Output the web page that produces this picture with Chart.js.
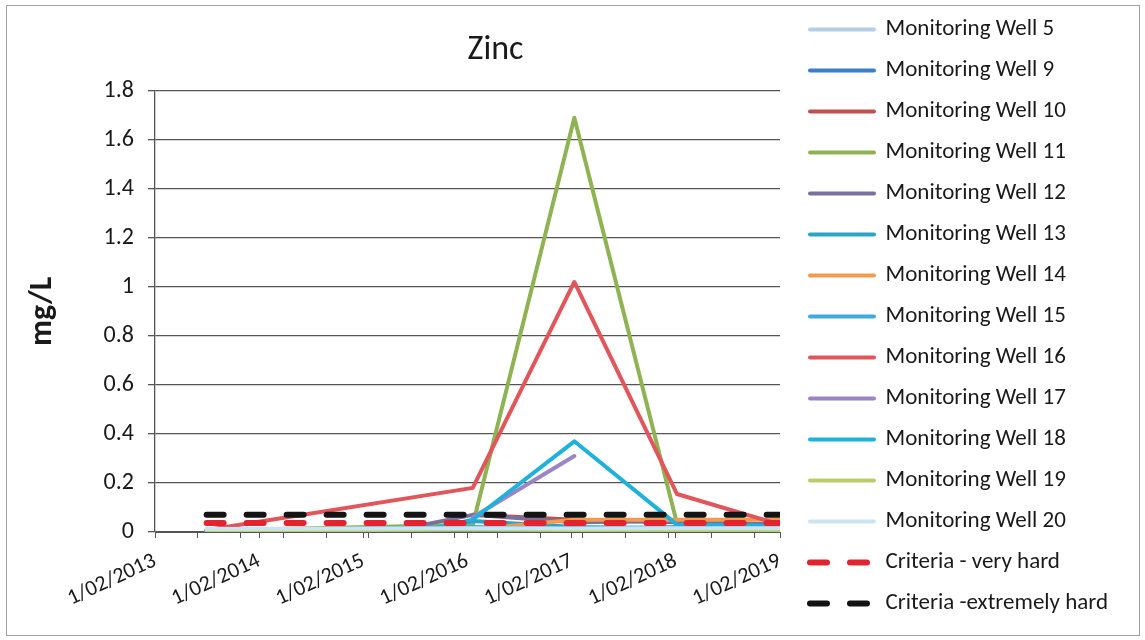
<!DOCTYPE html>
<html>
<head>
<meta charset="utf-8">
<script src="https://cdn.jsdelivr.net/npm/chart.js@4.4.1/dist/chart.umd.min.js"></script>
<style>
  html, body { margin: 0; padding: 0; background: #fff; }
  #wrap { width: 1145px; height: 640px; }
</style>
</head>
<body>
<div id="wrap"><canvas id="zinc" width="1145" height="640"></canvas></div>
<script>
// Sampling dates (index matches every series array below)
const sampleDates = ['2013-08-01', '2015-05-15', '2015-09-20', '2016-02-20', '2017-02-10', '2018-02-05', '2019-02-01'];

// Zinc concentrations, mg/L (null = not sampled)
const mw5  = [0.004, null, null, 0.008, 0.010, 0.008, 0.010];
const mw9  = [0.002, 0.003, null, 0.004, 0.003, 0.004, 0.005];
const mw10 = [null, null, null, 0.070, 0.050, 0.040, 0.030];
const mw11 = [0.006, null, null, 0.030, 1.690, 0.035, 0.020];
const mw12 = [0.004, 0.004, null, 0.070, 0.040, 0.045, 0.030];
const mw13 = [0.008, null, 0.010, 0.045, 0.020, 0.015, 0.020];
const mw14 = [null, null, null, 0.010, 0.050, 0.050, 0.050];
const mw15 = [0.006, null, null, 0.020, 0.012, 0.020, 0.020];
const mw16 = [0.008, null, null, 0.180, 1.020, 0.155, 0.030];
const mw17 = [null, null, null, 0.060, 0.310, null, null];
const mw18 = [null, null, 0.010, 0.050, 0.370, 0.030, 0.025];
const mw19 = [0.005, null, null, 0.010, 0.008, 0.005, 0.006];
const mw20 = [0.012, null, null, 0.015, 0.014, 0.015, 0.015];

// Guideline values, mg/L
const criteriaVeryHard      = [0.037, 0.037, 0.037, 0.037, 0.037, 0.037, 0.037];
const criteriaExtremelyHard = [0.070, 0.070, 0.070, 0.070, 0.070, 0.070, 0.070];

const seriesNames = ['Monitoring Well 5', 'Monitoring Well 9', 'Monitoring Well 10', 'Monitoring Well 11',
  'Monitoring Well 12', 'Monitoring Well 13', 'Monitoring Well 14', 'Monitoring Well 15',
  'Monitoring Well 16', 'Monitoring Well 17', 'Monitoring Well 18', 'Monitoring Well 19',
  'Monitoring Well 20', 'Criteria - very hard', 'Criteria -extremely hard'];
const seriesValues = [mw5, mw9, mw10, mw11, mw12, mw13, mw14, mw15, mw16, mw17, mw18, mw19, mw20,
  criteriaVeryHard, criteriaExtremelyHard];

// Axis ticks
const tickDates  = ['2013-02-01', '2014-02-01', '2015-02-01', '2016-02-01', '2017-02-01', '2018-02-01', '2019-02-01'];
const tickLabels = ['1/02/2013', '1/02/2014', '1/02/2015', '1/02/2016', '1/02/2017', '1/02/2018', '1/02/2019'];

// Line colours
const seriesColors = ['#b5cde9', '#3b7fc7', '#c0504d', '#8fb352', '#7a6f9f', '#2aa3c4', '#f29a4e',
  '#3fa9e0', '#e0565a', '#9a86c6', '#1fb0dc', '#b9cd6c', '#cce4f2', '#e3232d', '#141414'];

const FONT = "Carlito, Lato, 'Open Sans', sans-serif";
const TEXT = '#1a1a1a';
const DAY = 86400000;

const majorTicks = tickDates.map(d => Date.parse(d));
const xMin = majorTicks[0];
const xMax = majorTicks[majorTicks.length - 1];

const datasets = seriesNames.map((name, i) => {
  const isCriteria = i >= 13;
  const pts = [];
  seriesValues[i].forEach((v, k) => { if (v !== null) pts.push({ x: Date.parse(sampleDates[k]), y: v }); });
  return {
    label: name,
    data: pts,
    borderColor: seriesColors[i],
    backgroundColor: seriesColors[i],
    borderWidth: isCriteria ? 6 : 4,
    borderDash: isCriteria ? [17, 23] : [],
    borderCapStyle: 'round',
    borderJoinStyle: 'round',
    pointRadius: 0,
    pointHoverRadius: 0,
    tension: 0,
    fill: false,
    order: seriesNames.length - i   // later series painted on top
  };
});

// Outer frame of the chart
const frame = {
  id: 'frame',
  beforeDraw(chart) {
    const { ctx, width, height } = chart;
    ctx.save();
    ctx.fillStyle = '#fff';
    ctx.fillRect(0, 0, width, height);
    ctx.strokeStyle = '#a0a0a0';
    ctx.lineWidth = 1;
    ctx.strokeRect(6.5, 5.5, width - 12, height - 10);
    ctx.restore();
  }
};

// Place the title and legend boxes
const placement = {
  id: 'placement',
  afterLayout(chart) {
    const tb = chart.titleBlock;
    if (tb) {
      const w = tb.right - tb.left;
      const c = chart.chartArea.left + (chart.chartArea.right - chart.chartArea.left) / 2 + 28;
      tb.left = c - w / 2;
      tb.right = c + w / 2;
    }
    const lg = chart.legend;
    if (lg) {
      const w = lg.width;
      lg.left = chart.chartArea.right + 30 - lg.options.labels.padding;
      lg.right = lg.left + w;
    }
  }
};

const legendLabels = (chart) => {
  const items = Chart.defaults.plugins.legend.labels.generateLabels(chart);
  items.forEach(it => {
    const ds = chart.data.datasets[it.datasetIndex];
    it.lineDash = ds.borderDash;
    it.lineDashOffset = 0;
    it.lineCap = 'round';
  });
  return items;
};

const chart = new Chart(document.getElementById('zinc'), {
  type: 'line',
  data: { datasets },
  plugins: [frame, placement],
  options: {
    responsive: false,
    animation: false,
    events: [],
    layout: { padding: { top: 0, left: 0, right: 0, bottom: 0 } },
    plugins: {
      title: {
        display: true,
        text: 'Zinc',
        color: TEXT,
        font: { family: FONT, size: 34, weight: 'normal' },
        padding: { top: 30, bottom: 20 }
      },
      legend: {
        position: 'right',
        align: 'start',
        maxWidth: 365,
        labels: {
          usePointStyle: true,
          pointStyle: 'line',
          pointStyleWidth: 64,
          padding: 18,
          color: TEXT,
          font: { family: FONT, size: 23 },
          sort: (a, b) => a.datasetIndex - b.datasetIndex,
          generateLabels: legendLabels
        }
      },
      tooltip: { enabled: false }
    },
    scales: {
      x: {
        type: 'linear',
        min: xMin,
        max: xMax,
        afterBuildTicks(scale) {
          const vals = new Set(majorTicks);
          for (let t = xMin + 150 * DAY; t < xMax; t += 150 * DAY) vals.add(t);
          scale.ticks = [...vals].sort((a, b) => a - b).map(v => ({ value: v }));
        },
        afterFit(scale) { scale.height = 108; },
        ticks: {
          autoSkip: false,
          minRotation: 25,
          maxRotation: 25,
          padding: 10,
          color: TEXT,
          font: { family: FONT, size: 22 },
          callback(v) {
            const i = majorTicks.indexOf(v);
            return i >= 0 ? tickLabels[i] : '';
          }
        },
        grid: { display: true, drawOnChartArea: false, drawTicks: true, tickLength: 6, color: '#555', lineWidth: 1 },
        border: { display: true, color: '#555', width: 1 }
      },
      y: {
        min: 0,
        max: 1.8,
        afterFit(scale) { scale.width = 155; },
        ticks: {
          stepSize: 0.2,
          padding: 14,
          color: TEXT,
          font: { family: FONT, size: 24 },
          callback: v => String(+v.toFixed(1))
        },
        grid: { color: '#555', lineWidth: 1.3, drawTicks: true, tickLength: 7 },
        border: { display: true, color: '#555', width: 1.3 },
        title: {
          display: true,
          text: 'mg/L',
          color: TEXT,
          font: { family: FONT, size: 32, weight: 'bold' },
          padding: { top: 24, bottom: 0 }
        }
      }
    }
  }
});

// keep the plot's right edge clear of the legend column
const over = chart.chartArea.right - 780;
if (over !== 0) {
  chart.options.layout.padding.right = Math.max(0, over);
  chart.update();
}
</script>
</body>
</html>
